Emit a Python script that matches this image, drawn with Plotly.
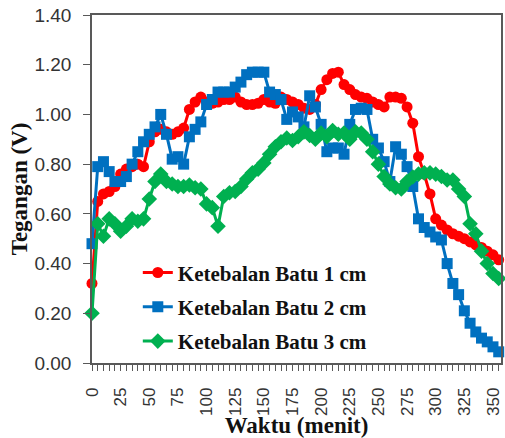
import plotly.graph_objects as go

# Time (minutes), sampled every 5 minutes
waktu = list(range(0, 360, 5))

batu_1cm = [0.32, 0.65, 0.68, 0.69, 0.71, 0.76, 0.78, 0.79, 0.80, 0.79,
            0.89, 0.93, 0.94, 0.93, 0.92, 0.93, 0.945, 1.02, 1.05, 1.07,
            1.05, 1.045, 1.05, 1.06, 1.06, 1.07, 1.05, 1.04, 1.04, 1.045,
            1.06, 1.05, 1.045, 1.07, 1.06, 1.05, 1.04, 1.025, 1.02, 1.04,
            1.10, 1.14, 1.165, 1.17, 1.12, 1.10, 1.08, 1.07, 1.065, 1.05,
            1.04, 1.03, 1.07, 1.07, 1.065, 1.03, 0.965, 0.83, 0.76, 0.68,
            0.58, 0.555, 0.535, 0.52, 0.51, 0.50, 0.487, 0.475, 0.465, 0.45,
            0.435, 0.415]

batu_2cm = [0.48, 0.79, 0.81, 0.77, 0.73, 0.73, 0.75, 0.80, 0.85, 0.89,
            0.92, 0.95, 1.00, 0.92, 0.82, 0.83, 0.80, 0.91, 0.94, 0.97,
            1.04, 1.06, 1.09, 1.09, 1.09, 1.11, 1.13, 1.16, 1.17, 1.17,
            1.17, 1.09, 1.08, 1.06, 0.98, 1.01, 0.99, 0.95, 1.075, 1.03,
            0.96, 0.85, 0.865, 0.865, 0.84, 0.96, 1.02, 1.025, 1.02, 0.90,
            0.865, 0.81, 0.73, 0.87, 0.84, 0.79, 0.71, 0.58, 0.545, 0.527,
            0.507, 0.495, 0.40, 0.32, 0.275, 0.21, 0.16, 0.125, 0.10, 0.085,
            0.065, 0.045]

batu_3cm = [0.20, 0.56, 0.51, 0.58, 0.56, 0.53, 0.55, 0.58, 0.57, 0.58,
            0.66, 0.73, 0.76, 0.73, 0.72, 0.71, 0.71, 0.716, 0.705, 0.70,
            0.64, 0.625, 0.55, 0.67, 0.685, 0.69, 0.71, 0.74, 0.765, 0.78,
            0.805, 0.84, 0.87, 0.89, 0.905, 0.895, 0.91, 0.93, 0.915, 0.90,
            0.925, 0.91, 0.935, 0.92, 0.925, 0.90, 0.93, 0.925, 0.90, 0.85,
            0.80, 0.75, 0.72, 0.705, 0.70, 0.73, 0.748, 0.76, 0.765, 0.765,
            0.76, 0.75, 0.736, 0.736, 0.70, 0.67, 0.56, 0.52, 0.45, 0.40,
            0.36, 0.34]

series_names = ["Ketebalan Batu 1 cm", "Ketebalan Batu 2 cm", "Ketebalan Batu 3 cm"]
series_colors = ["#FF0000", "#0070C0", "#00B050"]
series_symbols = ["circle", "square", "diamond"]
series_sizes = [11, 11, 12]

x_tickvals = list(range(0, 360, 5))
x_ticktext = [str(v) if v % 25 == 0 else "" for v in x_tickvals]
y_tickvals = [0.0, 0.2, 0.4, 0.6, 0.8, 1.0, 1.2, 1.4]

fig = go.Figure()
for name, ys, col, sym, sz in zip(series_names, [batu_1cm, batu_2cm, batu_3cm],
                                  series_colors, series_symbols, series_sizes):
    fig.add_trace(go.Scatter(
        x=waktu, y=ys, name=name, mode="lines+markers",
        line=dict(color=col, width=3),
        marker=dict(symbol=sym, size=sz, color=col, line=dict(width=0)),
        cliponaxis=False, legendgroup=name,
    ))

axis_col = "#595959"
fig.update_layout(
    width=505, height=438,
    margin=dict(l=92, r=2, t=15, b=75),
    paper_bgcolor="white", plot_bgcolor="white",
    showlegend=True,
    legend=dict(
        x=0.112, y=0.318, xanchor="left", yanchor="top",
        bgcolor="rgba(0,0,0,0)",
        font=dict(family="Liberation Serif", size=21, color="#111", weight="bold"),
        tracegroupgap=4, itemwidth=30,
    ),
    xaxis=dict(
        range=[0, 357], tickmode="array", tickvals=x_tickvals, ticktext=x_ticktext,
        tickangle=-90, ticks="outside", ticklen=6, tickcolor=axis_col, tickwidth=1,
        showline=True, linecolor=axis_col, linewidth=1.5, mirror=True,
        showgrid=False, zeroline=False,
        tickfont=dict(family="Liberation Sans", size=17, color="#333"),
        ticklabelstandoff=10,
        title=dict(text="<b>Waktu (menit)</b>", standoff=0,
                   font=dict(family="Liberation Serif", size=23, color="#111")),
    ),
    yaxis=dict(
        range=[0, 1.4], tickmode="array", tickvals=y_tickvals, tickformat=".2f",
        ticks="outside", ticklen=7, tickcolor=axis_col, tickwidth=1,
        showline=True, linecolor=axis_col, linewidth=1.5, mirror=True,
        showgrid=False, zeroline=False,
        tickfont=dict(family="Liberation Sans", size=19, color="#333"),
        ticklabelstandoff=8,
        title=dict(text="<b>Tegangan (V)</b>", standoff=0,
                   font=dict(family="Liberation Serif", size=23, color="#111")),
    ),
)

fig.write_html("out.html", config={"displayModeBar": False},
               post_script="document.body.style.margin='0px';")
